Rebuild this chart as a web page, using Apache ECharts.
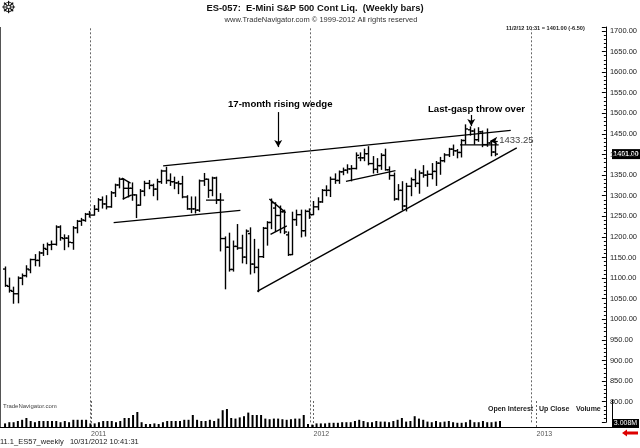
<!DOCTYPE html>
<html><head><meta charset="utf-8">
<script src="https://cdn.jsdelivr.net/npm/echarts@6/dist/echarts.min.js"></script>
<style>html,body{margin:0;padding:0;background:#fff}#c{width:640px;height:448px}</style>
</head><body><div id="c"></div>
<script>
// ---- data (weekly bars, week ending Friday) ----
const weeks = [
'2010-08-13','2010-08-20','2010-08-27','2010-09-03','2010-09-10','2010-09-17','2010-09-24','2010-10-01','2010-10-08','2010-10-15','2010-10-22','2010-10-29','2010-11-05','2010-11-12','2010-11-19','2010-11-26','2010-12-03','2010-12-10','2010-12-17','2010-12-24','2010-12-31',
'2011-01-07','2011-01-14','2011-01-21','2011-01-28','2011-02-04','2011-02-11','2011-02-18','2011-02-25','2011-03-04','2011-03-11','2011-03-18','2011-03-25','2011-04-01','2011-04-08','2011-04-15','2011-04-22','2011-04-29','2011-05-06','2011-05-13','2011-05-20','2011-05-27','2011-06-03','2011-06-10','2011-06-17','2011-06-24','2011-07-01','2011-07-08','2011-07-15','2011-07-22','2011-07-29','2011-08-05','2011-08-12','2011-08-19','2011-08-26','2011-09-02','2011-09-09','2011-09-16','2011-09-23','2011-09-30','2011-10-07','2011-10-14','2011-10-21','2011-10-28','2011-11-04','2011-11-11','2011-11-18','2011-11-25','2011-12-02','2011-12-09','2011-12-16','2011-12-23','2011-12-30',
'2012-01-06','2012-01-13','2012-01-20','2012-01-27','2012-02-03','2012-02-10','2012-02-17','2012-02-24','2012-03-02','2012-03-09','2012-03-16','2012-03-23','2012-03-30','2012-04-06','2012-04-13','2012-04-20','2012-04-27','2012-05-04','2012-05-11','2012-05-18','2012-05-25','2012-06-01','2012-06-08','2012-06-15','2012-06-22','2012-06-29','2012-07-06','2012-07-13','2012-07-20','2012-07-27','2012-08-03','2012-08-10','2012-08-17','2012-08-24','2012-08-31','2012-09-07','2012-09-14','2012-09-21','2012-09-28','2012-10-05','2012-10-12','2012-10-19','2012-10-26','2012-11-02'];
const opens = [
1122,1080,1068,1062,1100,1106,1120,1145,1143,1161,1170,1181,1182,1224,1196,1197,1186,1222,1238,1240,1255,
1253,1267,1290,1280,1273,1307,1326,1340,1318,1318,1302,1277,1311,1330,1325,1316,1334,1360,1337,1334,1331,1329,1297,1268,1268,1265,1336,1340,1313,1343,1290,1196,1175,1121,1177,1173,1151,1208,1134,1126,1152,1221,1235,1270,1252,1261,1205,1157,1242,1254,1215,1262,
1254,1273,1285,1313,1313,1340,1337,1358,1362,1365,1366,1392,1392,1402,1378,1364,1373,1398,1363,1349,1292,1313,1275,1323,1339,1330,1355,1350,1352,1359,1379,1385,1399,1413,1409,1405,1434,1460,1457,1436,1455,1424,1428,1406];
const highs = [
1127,1100,1078,1103,1110,1130,1146,1157,1164,1182,1185,1190,1227,1227,1205,1203,1225,1240,1245,1257,1262,
1276,1293,1297,1300,1310,1328,1343,1340,1333,1331,1302,1315,1335,1337,1328,1340,1362,1369,1353,1345,1335,1347,1300,1297,1297,1338,1354,1340,1345,1345,1305,1200,1209,1190,1230,1204,1217,1222,1194,1170,1223,1237,1292,1283,1275,1265,1212,1260,1265,1265,1265,1268,
1286,1295,1315,1324,1345,1353,1360,1367,1375,1373,1404,1404,1413,1419,1395,1390,1402,1413,1370,1355,1327,1334,1330,1343,1364,1360,1373,1360,1378,1383,1393,1402,1415,1423,1412,1436,1472,1467,1462,1465,1457,1462,1433,1429];
const lows = [
1080,1066,1039,1040,1084,1103,1113,1130,1129,1155,1157,1169,1180,1192,1169,1176,1170,1210,1228,1238,1248,
1253,1262,1270,1268,1272,1298,1319,1292,1297,1289,1247,1277,1300,1317,1300,1290,1330,1330,1325,1317,1305,1295,1267,1259,1258,1262,1325,1296,1300,1281,1166,1074,1117,1117,1170,1137,1135,1110,1113,1067,1150,1180,1220,1213,1210,1208,1155,1157,1228,1200,1202,1245,
1254,1266,1284,1300,1298,1330,1330,1351,1355,1336,1365,1385,1385,1375,1355,1356,1364,1362,1340,1289,1290,1266,1263,1300,1322,1306,1345,1323,1341,1325,1352,1382,1395,1398,1392,1394,1425,1447,1425,1432,1419,1420,1397,1397];
const closes = [
1082,1070,1062,1100,1106,1122,1145,1143,1161,1172,1181,1182,1224,1198,1197,1187,1222,1238,1241,1255,1253,
1267,1290,1280,1273,1307,1326,1340,1318,1318,1302,1277,1311,1330,1325,1316,1334,1360,1337,1334,1331,1329,1297,1268,1268,1265,1336,1340,1313,1343,1290,1196,1175,1121,1177,1173,1151,1214,1134,1126,1152,1221,1235,1283,1252,1261,1212,1157,1242,1254,1215,1262,1254,
1273,1285,1313,1313,1340,1337,1358,1362,1365,1366,1398,1392,1402,1378,1364,1373,1398,1363,1349,1292,1313,1275,1323,1339,1330,1355,1350,1352,1359,1379,1385,1399,1413,1409,1405,1434,1462,1457,1436,1455,1424,1428,1406,1401];
const volumes = [
6,8,8,10,12,15,10,8,10,10,10,10,10,8,10,8,12,12,12,12,6,
6,8,10,10,10,8,10,15,15,20,25,8,5,5,6,5,8,10,10,10,
10,12,12,20,12,10,10,12,10,14,28,30,15,14,16,18,24,20,20,20,
14,13,14,14,13,12,13,14,14,20,5,4,
6,6,6,7,7,7,8,8,8,10,12,10,8,8,10,9,9,8,10,12,15,9,10,18,14,12,9,8,10,8,9,10,8,7,7,8,12,8,8,10,8,8,9,10];
const yearStarts = ['2011-01-01','2012-01-01','2013-01-01'];
const yearLabels = ['2011','2012','2013'];
// trend lines drawn on the chart: [[startDate, price], [endDate, price]]
const trendLines = [
  [['2011-05-02',1372.3],['2012-11-28',1458.5]],   // wedge upper
  [['2011-10-05',1067.7],['2012-12-08',1416.0]],   // wedge lower
  [['2011-02-09',1234.7],['2011-09-07',1264.3]],   // 2011 support
  [['2011-07-12',1289.3],['2011-08-11',1289.3]],
  [['2011-02-23',1342.5],['2011-03-09',1330.3]],
  [['2011-02-24',1291.5],['2011-03-11',1301.9]],
  [['2011-10-25',1292.2],['2011-11-21',1259.0]],
  [['2011-10-27',1206.1],['2011-11-23',1226.7]],
  [['2012-02-29',1334.7],['2012-05-21',1360.9]],
  [['2012-09-05',1423.3],['2012-11-08',1423.3]]
];
const lastPrice = 1401.00;
const markPrice = 1433.25;

const DAY0 = Date.UTC(2011,0,1);
const dayOf = s => { const p = s.split('-').map(Number); return (Date.UTC(p[0],p[1]-1,p[2]) - DAY0)/864e5; };
const X_MIN = -149.3, X_MAX = 854.7;
const yearDays = yearStarts.map(dayOf);
const FONT = '"Liberation Sans", Arial, sans-serif';
const NARROW = '"Liberation Sans Narrow", "Liberation Sans", Arial, sans-serif';

const chart = echarts.init(document.getElementById('c'));

const ohlc = weeks.map((w,i)=>[dayOf(w), opens[i], highs[i], lows[i], closes[i]]);
const vol = weeks.map((w,i)=>[dayOf(w), volumes[i]]);

const makeDash = () => ({
  silent:true, symbol:'none', label:{show:false},
  lineStyle:{color:'#666', type:[2,2], width:1},
  data: yearDays.map(d=>({xAxis:d}))
});

const series = [
  {
    type:'custom', xAxisIndex:0, yAxisIndex:0, data: ohlc,
    encode:{x:0, y:[1,2,3,4]},
    renderItem:function(params, api){
      const x = api.value(0);
      const o = api.coord([x, api.value(1)]);
      const h = api.coord([x, api.value(2)]);
      const l = api.coord([x, api.value(3)]);
      const c = api.coord([x, api.value(4)]);
      const px = Math.round(h[0]) + 0.5;
      const st = {stroke:'#000', lineWidth:1.4};
      return {type:'group', children:[
        {type:'line', shape:{x1:px,y1:h[1]-0.5,x2:px,y2:l[1]+0.5}, style:st},
        {type:'line', shape:{x1:px-2.5,y1:o[1],x2:px,y2:o[1]}, style:st},
        {type:'line', shape:{x1:px,y1:c[1],x2:px+2.5,y2:c[1]}, style:st}
      ]};
    },
    z:5
  },
  {
    type:'bar', xAxisIndex:1, yAxisIndex:1, data: vol, barWidth:2,
    itemStyle:{color:'#000'}, silent:true, markLine: makeDash(), z:5
  }
];
trendLines.forEach((tl, k)=>{
  const s = {
    type:'line', xAxisIndex:0, yAxisIndex:0, silent:true,
    data: tl.map(p=>[dayOf(p[0]), p[1]]),
    showSymbol:false, symbol:'none',
    lineStyle:{color:'#000', width:1.4}, z:4
  };
  if (k===0) {
    s.markLine = makeDash();
  }
  if (k===1) {
    s.markLine = {
      silent:true, symbol:['none','arrow'], symbolSize:[6,7], label:{show:false},
      lineStyle:{color:'#000', width:1.2, type:'solid'},
      data:[
        [{coord:[311.7,1503]},{coord:[311.7,1418]}],
        [{coord:[631.6,1496]},{coord:[631.6,1469]}],
        [{coord:[675.5,markPrice]},{coord:[663,markPrice]}]
      ]
    };
  }
  series.push(s);
});

chart.setOption({
  animation:false,
  backgroundColor:'#fff',
  grid:[
    {left:0, right:28, top:27, height:395.3},
    {left:0, right:28, top:400, bottom:21}
  ],
  xAxis:[
    {type:'value', gridIndex:0, min:X_MIN, max:X_MAX, show:false},
    {type:'value', gridIndex:1, min:X_MIN, max:X_MAX,
     axisLine:{show:true, onZero:false, lineStyle:{color:'#000', width:1}},
     axisTick:{show:false}, splitLine:{show:false},
     axisLabel:{customValues: yearDays, formatter: v => yearLabels[yearDays.indexOf(v)] || '',
       align:'left', fontSize:7, color:'#555', margin:4, fontFamily:NARROW}}
  ],
  yAxis:[
    {type:'value', gridIndex:0, position:'right', min:750, max:1709.5, interval:50,
     axisLine:{show:true, onZero:false, lineStyle:{color:'#000', width:1}},
     axisTick:{show:true, inside:true, length:4, lineStyle:{color:'#000'}},
     minorTick:{show:true, splitNumber:5, length:2, lineStyle:{color:'#000'}},
     splitLine:{show:false},
     axisLabel:{formatter: v => (v<=1700 && v>=800 && v%50===0) ? v.toFixed(2) : '',
       fontSize:7.5, color:'#222', margin:4, fontFamily:NARROW}},
    {type:'value', gridIndex:1, position:'right', min:0, max:45,
     axisLine:{show:true, onZero:false, lineStyle:{color:'#000', width:1}},
     axisTick:{show:false}, axisLabel:{show:false}, splitLine:{show:false}}
  ],
  series: series
});

const yLast = chart.convertToPixel({yAxisIndex:0}, lastPrice);
const yMark = chart.convertToPixel({yAxisIndex:0}, markPrice);
const xMark = chart.convertToPixel({xAxisIndex:0}, 678);

chart.setOption({
  graphic:[
    {type:'line', shape:{x1:0.5,y1:27,x2:0.5,y2:427}, style:{stroke:'#555', lineWidth:1}},
    {type:'text', left:1, top:0, style:{text:'☸', fontSize:17, fill:'#111', fontFamily:'DejaVu Sans'}},
    {type:'text', x:315, y:8, style:{text:'ES-057:  E-Mini S&P 500 Cont Liq.  (Weekly bars)', font:'bold 9.4px '+FONT, fill:'#111', align:'center', verticalAlign:'middle'}},
    {type:'text', x:321, y:19.5, style:{text:'www.TradeNavigator.com © 1999-2012 All rights reserved', font:'7.5px '+FONT, fill:'#333', align:'center', verticalAlign:'middle'}},
    {type:'text', x:506, y:28, style:{text:'11/2/12 10:31 = 1401.00 (-6.50)', font:'bold 5.6px '+FONT, fill:'#222', align:'left', verticalAlign:'middle'}},
    {type:'text', x:228, y:104, style:{text:'17-month rising wedge', font:'bold 9.6px '+FONT, fill:'#000', align:'left', verticalAlign:'middle'}},
    {type:'text', x:428, y:109, style:{text:'Last-gasp throw over', font:'bold 9.6px '+FONT, fill:'#000', align:'left', verticalAlign:'middle'}},
    {type:'text', x:xMark, y:yMark, style:{text:'1433.25', font:'9.5px '+FONT, fill:'#444', align:'left', verticalAlign:'middle'}},
    {type:'rect', shape:{x:612, y:yLast-5, width:28, height:10}, style:{fill:'#000'}},
    {type:'text', x:626, y:yLast, style:{text:lastPrice.toFixed(2), font:'bold 7px '+NARROW, fill:'#fff', align:'center', verticalAlign:'middle'}},
    {type:'text', x:3, y:406, style:{text:'TradeNavigator.com', font:'6px '+FONT, fill:'#444', align:'left', verticalAlign:'middle'}},
    {type:'text', x:488, y:409, style:{text:'Open Interest', font:'bold 7px '+FONT, fill:'#222', align:'left', verticalAlign:'middle'}},
    {type:'text', x:539, y:409, style:{text:'Up Close', font:'bold 7px '+FONT, fill:'#222', align:'left', verticalAlign:'middle'}},
    {type:'text', x:576, y:409, style:{text:'Volume', font:'bold 7px '+FONT, fill:'#222', align:'left', verticalAlign:'middle'}},
    {type:'rect', shape:{x:612, y:419, width:27, height:9}, style:{fill:'#000'}},
    {type:'text', x:625.5, y:423.5, style:{text:'3.008M', font:'7px '+NARROW, fill:'#fff', align:'center', verticalAlign:'middle'}},
    {type:'polygon', shape:{points:[[622,433],[627,429.5],[627,431.5],[638,431.5],[638,434.5],[627,434.5],[627,436.5]]}, style:{fill:'#d00'}},
    {type:'text', x:0, y:442, style:{text:'11.1_ES57_weekly   10/31/2012 10:41:31', font:'7.5px '+FONT, fill:'#222', align:'left', verticalAlign:'middle'}}
  ]
});
</script>
</body></html>
